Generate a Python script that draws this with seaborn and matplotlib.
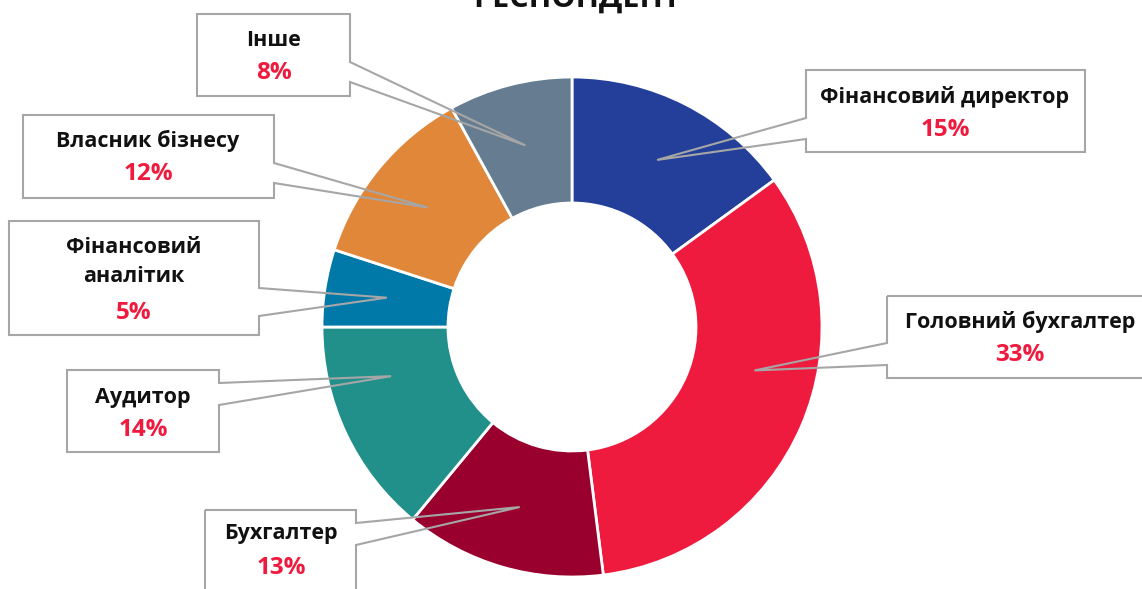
import numpy as np
import matplotlib
matplotlib.use('Agg')
import matplotlib.pyplot as plt
from matplotlib.patches import Polygon
import seaborn as sns

# data
roles = ['Фінансовий директор', 'Головний бухгалтер', 'Бухгалтер', 'Аудитор',
         'Фінансовий\nаналітик', 'Власник бізнесу', 'Інше']
shares = [15, 33, 13, 14, 5, 12, 8]
colors = ['#233F99', '#EE1B3E', '#99002E', '#21908B', '#0079A9', '#E0873A', '#667D91']
title = 'РЕСПОНДЕНТ'

sns.set_theme(style='white')
plt.rcParams['font.family'] = ['Open Sans', 'DejaVu Sans']

W, H = 1142, 589
CX, CY, R = 572, 327, 250

def px(x, y):
    # pixel (from top-left) -> data coords, pie radius = 1
    return ((x - CX) / R, (CY - y) / R)

# callout boxes in pixels: x0, y0, x1, y1, side of pointer, attach y's, tip angle offset
boxes = [
    (806, 70, 1085, 152, 'left', 118, 139, 0),
    (887, 296, 1160, 378, 'left', 343, 365, 10),
    (205, 510, 356, 620, 'right', 523, 545, 0),
    (67, 370, 219, 452, 'right', 383, 405, -10),
    (9, 221, 259, 335, 'right', 288, 316, 0),
    (23, 115, 274, 198, 'right', 163, 183, 0),
    (197, 14, 350, 96, 'right', 62, 82, 0),
]
# text line centres (pixels): x centre, name centre y, pct centre y
text_pos = [
    (945, 97, 130), (1020, 322, 355), (281, 533, 568), (143, 397, 430),
    (134, 262, 313), (148, 141, 174), (274, 40, 73),
]

fig = plt.figure(figsize=(W / 100, H / 100), dpi=100)
ax = fig.add_axes([0, 0, 1, 1])

wedges, _ = ax.pie(shares, colors=colors, startangle=90, counterclock=False,
                   radius=1, wedgeprops=dict(width=0.504, edgecolor='white', linewidth=2))

x0, y0 = px(0, H)
x1, y1 = px(W, 0)
ax.set_xlim(x0, x1)
ax.set_ylim(y0, y1)
ax.set_aspect('auto')
ax.axis('off')

edge = '#A6A6A6'
for w, role, share, b, tp in zip(wedges, roles, shares, boxes, text_pos):
    bx0, by0, bx1, by1, side, ya, yb, off = b
    ang = np.deg2rad((w.theta1 + w.theta2) / 2 + off)
    tip = (0.75 * np.cos(ang), 0.75 * np.sin(ang))
    if side == 'right':
        pts = [px(bx0, by0), px(bx1, by0), px(bx1, ya), tip, px(bx1, yb),
               px(bx1, by1), px(bx0, by1)]
    else:
        pts = [px(bx0, by0), px(bx1, by0), px(bx1, by1), px(bx0, by1),
               px(bx0, yb), tip, px(bx0, ya)]
    ax.add_patch(Polygon(pts, closed=True, fill=False, edgecolor=edge, linewidth=1.5,
                         clip_on=False, zorder=3))
    tx, ny, py = tp
    ax.text(*px(tx, ny), role, ha='center', va='center', fontsize=15.5,
            fontweight='bold', color='#111111', linespacing=1.45, zorder=4)
    ax.text(*px(tx, py), f'{share}%', ha='center', va='center', fontsize=17.5,
            fontweight='bold', color='#EE1B3E', zorder=4)

ax.text(*px(577, 7), title, ha='center', va='baseline', fontsize=22,
        fontweight='bold', color='#111111', clip_on=False)

fig.savefig('out.png', dpi=100, facecolor='white')
